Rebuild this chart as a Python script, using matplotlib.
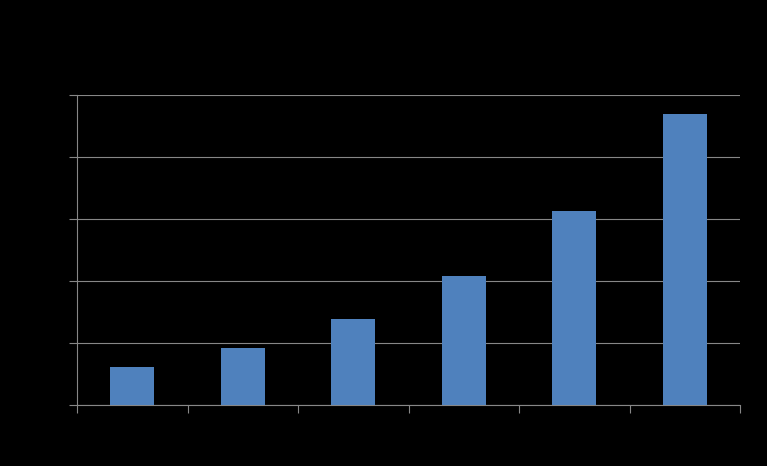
import matplotlib
matplotlib.use("Agg")
import matplotlib.pyplot as plt
import numpy as np

# categories (labels are not visible in the picture)
categories = ["1", "2", "3", "4", "5", "6"]
values = [6.1, 9.2, 13.9, 20.8, 31.3, 46.9]
y_ticks = [0, 10, 20, 30, 40, 50]

bar_color = "#4f81bd"
line_color = "#878787"

fig = plt.figure(figsize=(7.67, 4.66), dpi=100, facecolor="black")
ax = fig.add_axes([77 / 767, 61 / 466, 663 / 767, 310 / 466], facecolor="black")

x = np.arange(len(categories))
ax.bar(x, values, width=0.4, color=bar_color, zorder=3)

ax.set_xlim(-0.5, len(categories) - 0.5)
ax.set_ylim(y_ticks[0], y_ticks[-1])

ax.set_yticks(y_ticks)
ax.set_yticklabels([])
ax.set_xticks(np.arange(len(categories) + 1) - 0.5)
ax.set_xticklabels([])
ax.yaxis.grid(True, color=line_color, linewidth=0.8, zorder=0)

for side in ["top", "right"]:
    ax.spines[side].set_visible(False)
for side in ["left", "bottom"]:
    ax.spines[side].set_color(line_color)
    ax.spines[side].set_linewidth(0.8)
ax.tick_params(axis="both", colors=line_color, length=6, width=0.8, direction="out")

fig.savefig("out.png", dpi=100, facecolor="black")
